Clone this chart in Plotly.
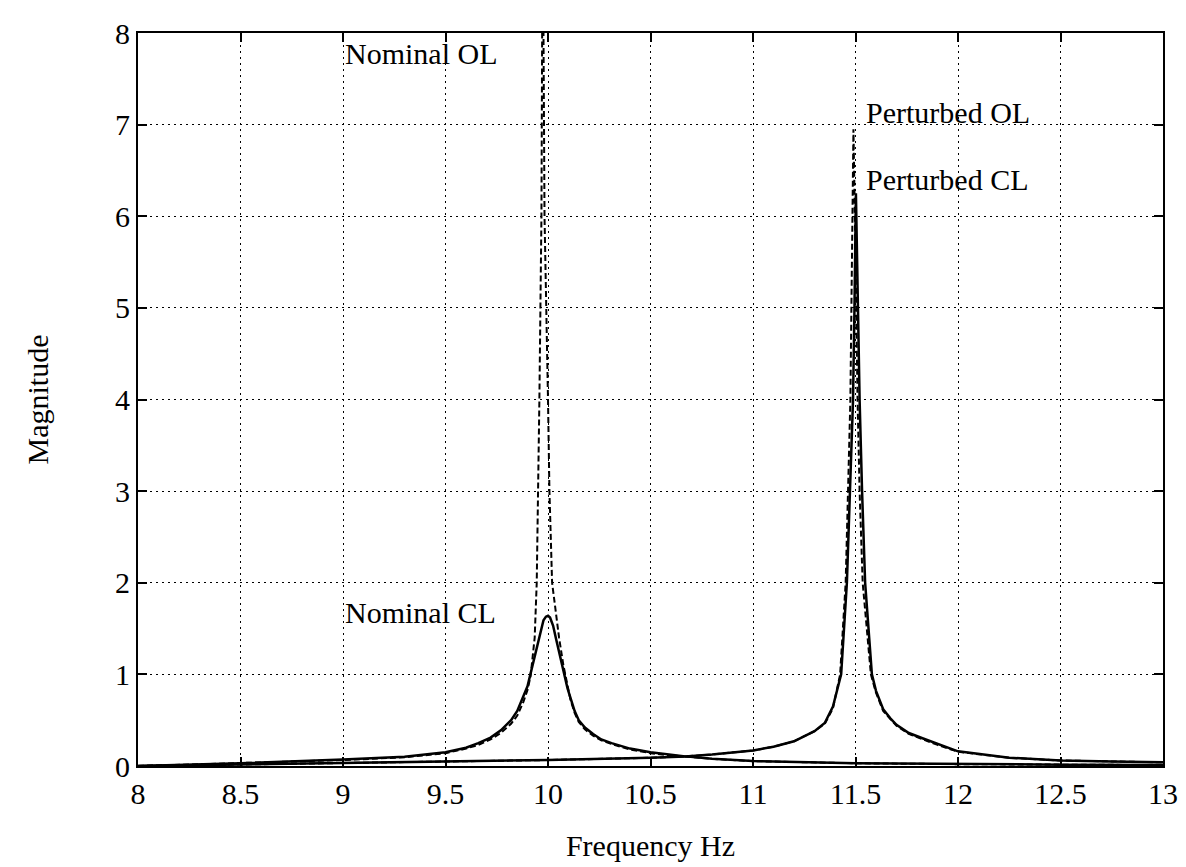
import plotly.graph_objects as go

# ---------------- data ----------------
x_tick_vals = [8, 8.5, 9, 9.5, 10, 10.5, 11, 11.5, 12, 12.5, 13]
x_tick_text = ["8", "8.5", "9", "9.5", "10", "10.5", "11", "11.5", "12", "12.5", "13"]
y_tick_vals = [0, 1, 2, 3, 4, 5, 6, 7, 8]
y_tick_text = ["0", "1", "2", "3", "4", "5", "6", "7", "8"]

# Nominal closed loop (solid)
nom_cl_x = [8.0, 8.5, 9.0, 9.3, 9.5, 9.6, 9.66, 9.72, 9.77, 9.82, 9.85, 9.88, 9.9, 9.914,
            9.93, 9.95, 9.965, 9.978, 9.99, 10.0, 10.01, 10.025, 10.04, 10.06, 10.077,
            10.095, 10.11, 10.13, 10.15, 10.18, 10.22, 10.26, 10.31, 10.4, 10.5, 10.6,
            10.67, 10.8, 11.0, 11.5, 12.0, 12.5, 13.0]
nom_cl_y = [0.0, 0.03, 0.07, 0.1, 0.15, 0.2, 0.25, 0.31, 0.39, 0.5, 0.6, 0.75, 0.87, 1.0,
            1.15, 1.35, 1.5, 1.59, 1.63, 1.64, 1.62, 1.53, 1.38, 1.18, 1.0,
            0.85, 0.74, 0.6, 0.5, 0.42, 0.35, 0.29, 0.25, 0.19, 0.15, 0.12,
            0.105, 0.08, 0.055, 0.03, 0.02, 0.015, 0.01]

# Nominal open loop (dashed)
nom_ol_x = [8.0, 8.5, 9.0, 9.3, 9.5, 9.6, 9.66, 9.72, 9.77, 9.82, 9.85, 9.88, 9.9, 9.915,
            9.935, 9.945, 9.952, 9.958, 9.968, 9.972, 9.975, 9.978, 9.983, 10.0, 10.007,
            10.02, 10.054, 10.075, 10.095, 10.11, 10.13, 10.15, 10.18, 10.22, 10.26, 10.31,
            10.4, 10.5, 10.6, 10.67, 10.8, 11.0, 11.5, 12.0, 12.5, 13.0]
nom_ol_y = [0.0, 0.03, 0.065, 0.095, 0.14, 0.19, 0.23, 0.29, 0.36, 0.46, 0.55, 0.7, 0.83, 0.98,
            1.4, 2.0, 3.0, 4.0, 6.0, 8.0, 10.0, 8.0, 6.0, 4.0, 3.0,
            2.0, 1.4, 1.1, 0.88, 0.72, 0.58, 0.48, 0.4, 0.33, 0.28, 0.24,
            0.18, 0.14, 0.115, 0.1, 0.078, 0.053, 0.03, 0.02, 0.015, 0.01]

# Perturbed closed loop (solid)
per_cl_x = [8.0, 8.5, 9.0, 9.5, 10.0, 10.5, 10.67, 10.8, 11.0, 11.1, 11.2, 11.3, 11.35,
            11.39, 11.43, 11.458, 11.472, 11.488, 11.495, 11.502, 11.512, 11.52, 11.532,
            11.547, 11.58, 11.6, 11.635, 11.67, 11.7, 11.76, 11.83, 11.9, 12.0, 12.25,
            12.5, 12.75, 13.0]
per_cl_y = [0.0, 0.015, 0.03, 0.045, 0.065, 0.09, 0.105, 0.125, 0.17, 0.21, 0.27, 0.38, 0.47,
            0.65, 1.0, 2.0, 3.0, 4.0, 5.0, 6.25, 5.0, 4.0, 3.0,
            2.0, 1.0, 0.82, 0.62, 0.52, 0.45, 0.36, 0.3, 0.24, 0.16, 0.09,
            0.06, 0.05, 0.04]

# Perturbed open loop (dashed)
per_ol_x = [8.0, 8.5, 9.0, 9.5, 10.0, 10.5, 10.67, 10.8, 11.0, 11.1, 11.2, 11.3, 11.35,
            11.39, 11.425, 11.452, 11.465, 11.475, 11.48, 11.485, 11.49, 11.497, 11.502,
            11.51, 11.52, 11.535, 11.575, 11.6, 11.635, 11.67, 11.7, 11.76, 11.83, 11.9,
            12.0, 12.25, 12.5, 12.75, 13.0]
per_ol_y = [0.0, 0.015, 0.03, 0.045, 0.065, 0.09, 0.105, 0.125, 0.17, 0.21, 0.27, 0.38, 0.46,
            0.63, 1.0, 2.0, 3.0, 4.0, 5.0, 6.0, 6.95, 6.0, 5.0,
            4.0, 3.0, 2.0, 1.0, 0.8, 0.6, 0.51, 0.44, 0.35, 0.29, 0.23,
            0.155, 0.09, 0.06, 0.05, 0.04]

labels = ["Nominal OL", "Nominal CL", "Perturbed OL", "Perturbed CL"]

FONT = "Liberation Serif"
FS = 30

fig = go.Figure()
line_dash = dict(color="black", width=2, dash="6px,3px")
line_solid = dict(color="black", width=2.5)

fig.add_trace(go.Scatter(x=nom_ol_x, y=nom_ol_y, mode="lines", line=line_dash, name=labels[0]))
fig.add_trace(go.Scatter(x=per_ol_x, y=per_ol_y, mode="lines", line=line_dash, name=labels[2]))
fig.add_trace(go.Scatter(x=nom_cl_x, y=nom_cl_y, mode="lines", line=line_solid, name=labels[1]))
fig.add_trace(go.Scatter(x=per_cl_x, y=per_cl_y, mode="lines", line=line_solid, name=labels[3]))

ann_font = dict(family=FONT, size=FS, color="black")
fig.add_annotation(x=9.0, y=7.78, text=labels[0], showarrow=False, xanchor="left",
                   yanchor="middle", font=ann_font)
fig.add_annotation(x=9.0, y=1.67, text=labels[1], showarrow=False, xanchor="left",
                   yanchor="middle", font=ann_font)
fig.add_annotation(x=11.54, y=7.13, text=labels[2], showarrow=False, xanchor="left",
                   yanchor="middle", font=ann_font)
fig.add_annotation(x=11.54, y=6.4, text=labels[3], showarrow=False, xanchor="left",
                   yanchor="middle", font=ann_font)

axis_common = dict(
    showline=True, linecolor="black", linewidth=2, mirror="ticks",
    ticks="inside", ticklen=9, tickwidth=1.5, tickcolor="black",
    showgrid=True, gridcolor="black", gridwidth=1.3, griddash="2px,4px",
    zeroline=False,
    tickfont=dict(family=FONT, size=FS, color="black"),
)

fig.update_xaxes(range=[8, 13], tickvals=x_tick_vals, ticktext=x_tick_text,
                 title=dict(text="Frequency Hz", font=dict(family=FONT, size=FS, color="black"),
                            standoff=26),
                 **axis_common)
fig.update_yaxes(range=[0, 8], tickvals=y_tick_vals, ticktext=y_tick_text,
                 title=dict(text="Magnitude", font=dict(family=FONT, size=FS, color="black"),
                            standoff=58),
                 **axis_common)

fig.update_layout(
    width=1186, height=867,
    margin=dict(l=130, r=31, t=25, b=109, autoexpand=False),
    paper_bgcolor="white", plot_bgcolor="white",
    showlegend=False,
    font=dict(family=FONT, color="black"),
)

fig.write_html("out.html")
